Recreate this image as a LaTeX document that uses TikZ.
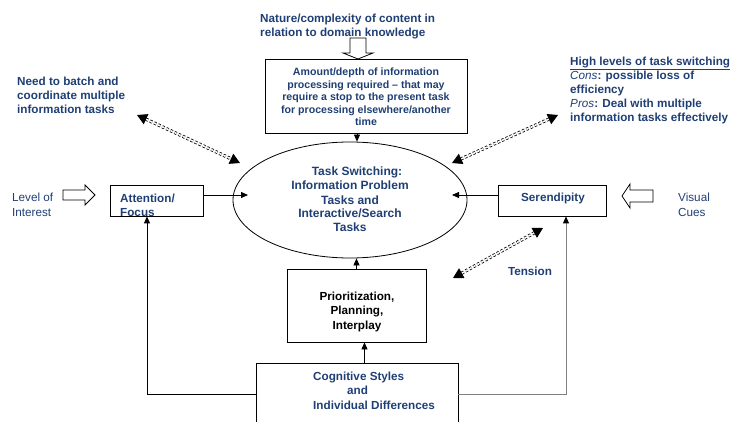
\documentclass[tikz,border=0pt]{standalone}
\usepackage{fontspec}
\setmainfont{Liberation Sans}
\usetikzlibrary{arrows.meta,calc,shapes.geometric}
\definecolor{navy}{HTML}{1F3F74}
\definecolor{lgray}{HTML}{808080}
\begin{document}
\begin{tikzpicture}[x=1pt,y=-1pt,
  box/.style={draw=black,line width=0.8pt,inner sep=0pt},
  bt/.style={font=\bfseries\fontsize{11.7}{14}\selectfont,text=navy,inner sep=0pt},
  rt/.style={font=\fontsize{11.7}{14}\selectfont,text=navy,inner sep=0pt},
  arr/.style={line width=0.8pt,-{Triangle[length=7pt,width=6pt]}},
  grayarr/.style={line width=0.8pt,draw=lgray,-{Triangle[length=7pt,width=6pt,color=black]}},
  dd/.style={double,double distance=1.6pt,line width=0.8pt,dash pattern=on 2.5pt off 2pt,
    {Triangle[length=10pt,width=11pt]}-{Triangle[length=10pt,width=11pt]}},
  hollow/.style={draw=black,fill=white,line width=0.8pt}]
\useasboundingbox (0,0) rectangle (736,422);
\clip (0,0) rectangle (736,422);

% boxes
\node[box,minimum width=202pt,minimum height=74pt] (amt) at (366,96) {};
\node[draw,ellipse,line width=0.8pt,inner sep=0pt,minimum width=234pt,minimum height=116pt] (ell) at (350,200) {};
\node[box,minimum width=93pt,minimum height=31pt] (att) at (156.5,200.5) {};
\node[box,minimum width=108pt,minimum height=31pt] (ser) at (552,200.5) {};
\node[box,minimum width=139pt,minimum height=73pt] (pri) at (356.5,305.5) {};
\node[box,minimum width=202pt,minimum height=70pt] (cog) at (357,398) {};

% texts (anchor base = baseline of the last line)
\node[bt,align=left,anchor=base west] (tnat) at (260,37) {Nature/complexity of content in\\relation to domain knowledge};
\node[bt,align=left,anchor=base west] (tneed) at (17,114) {Need to batch and\\coordinate multiple\\information tasks};
\node[bt,align=left,anchor=base west,font=\bfseries\fontsize{11.7}{14.2}\selectfont] (thigh) at (570,122) {\underline{High levels of task switching}\\\textit{\mdseries Cons}: possible loss of\\efficiency\\\textit{\mdseries Pros}: Deal with multiple\\information tasks effectively};
\node[bt,align=center,anchor=base,font=\bfseries\fontsize{10.6}{12.5}\selectfont] (tamt) at (366,126) {Amount/depth of information\\processing required -- that may\\require a stop to the present task\\for processing elsewhere/another\\time};
\node[bt,align=center,anchor=base,font=\bfseries\fontsize{12}{14}\selectfont] (tell) at (350,232) {\hspace*{14pt}Task Switching:\\Information Problem\\Tasks and\\Interactive/Search\\Tasks};
\node[bt,align=left,anchor=base west,font=\bfseries\fontsize{11.7}{13.5}\selectfont] (tatt) at (120,216.5) {Attention/\\Focus};
\node[rt,align=left,anchor=base west] (tlev) at (12,216) {Level of\\Interest};
\node[rt,align=left,anchor=base west] (tvis) at (678,216) {Visual\\Cues};
\node[bt,anchor=base] (tser) at (553,202) {Serendipity};
\node[bt,anchor=base] (tten) at (530,275) {Tension};
\node[bt,text=black,align=center,anchor=base,font=\bfseries\fontsize{11.7}{14.5}\selectfont] (tpri) at (357,329) {Prioritization,\\Planning,\\Interplay};
\node[bt,align=left,anchor=base west,font=\bfseries\fontsize{11.7}{14.5}\selectfont] (tcog) at (313,409) {Cognitive Styles\\\hspace*{34pt}and\\Individual Differences};

% hollow arrows
\draw[hollow] (63,190) -- (85,190) -- (85,185) -- (95,195) -- (85,205) -- (85,200) -- (63,200) -- cycle;
\draw[hollow] (653,190) -- (630,190) -- (630,184) -- (622,196) -- (630,208) -- (630,202) -- (653,202) -- cycle;
\draw[hollow] (350,38) -- (350,53) -- (343,53) -- (358,59) -- (373,53) -- (366,53) -- (366,38) -- cycle;

% connectors
\coordinate (eL) at (248,195);
\coordinate (eR) at (452,195);
\coordinate (cl) at (147,394);
\coordinate (cr) at (566,394);
\draw[arr] (att.east |- eL) -- (eL);
\draw[arr] (ser.west |- eR) -- (eR);
\draw[arr] ([xshift=-9pt]amt.south) -- ([xshift=-9pt]amt.south |- ell.north);
\draw[arr] (pri.north) -- (pri.north |- ell.south);
\draw[arr] ([xshift=7.5pt]cog.north) -- ([xshift=7.5pt]cog.north |- pri.south);
\draw[arr] (cog.west |- cl) -- (cl) -- (cl |- att.south);
\draw[grayarr] (cog.east |- cr) -- (cr) -- (cr |- ser.south);

% dashed double arrows
\coordinate (d1a) at (137,115); \coordinate (d1b) at (240,163);
\coordinate (d2a) at (558,115); \coordinate (d2b) at (452,163);
\coordinate (d3a) at (453,278); \coordinate (d3b) at (543,228);
\draw[dd] (d1a) -- (d1b);
\draw[dd] (d2a) -- (d2b);
\draw[dd] (d3a) -- (d3b);
\end{tikzpicture}
\end{document}
